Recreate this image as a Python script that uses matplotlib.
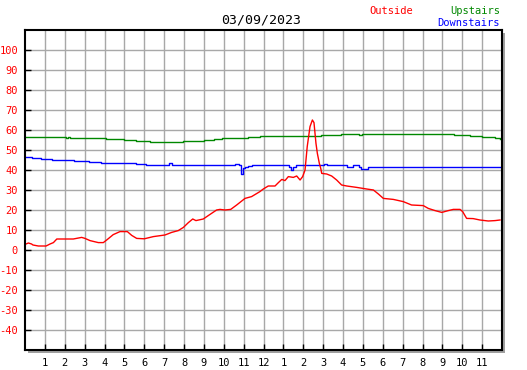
import matplotlib
matplotlib.use("Agg")
import matplotlib.pyplot as plt
from matplotlib.patches import Rectangle

title = "03/09/2023"
series_names = ["Outside", "Upstairs", "Downstairs"]
hour_labels = ["1", "2", "3", "4", "5", "6", "7", "8", "9", "10", "11", "12",
               "1", "2", "3", "4", "5", "6", "7", "8", "9", "10", "11"]
y_ticks = [-40, -30, -20, -10, 0, 10, 20, 30, 40, 50, 60, 70, 80, 90, 100]

outside_t = [0.05, 0.17, 0.33, 0.4, 0.67, 1.06, 1.26, 1.43, 1.6, 2.43, 2.85, 3.02, 3.27, 3.69, 3.94,
             4.11, 4.44, 4.78, 5.15, 5.37, 5.62, 6.0, 6.46, 7.04, 7.38, 7.71, 7.97, 8.22, 8.44, 8.6,
             8.97, 9.22, 9.64, 9.81, 10.06, 10.35, 10.65, 11.07, 11.4, 11.82, 11.99, 12.24, 12.58,
             12.75, 12.92, 13.08, 13.25, 13.5, 13.67, 13.84, 13.97, 14.09, 14.2, 14.34, 14.46, 14.54,
             14.64, 14.71, 14.81, 14.88, 14.93, 15.18, 15.43, 15.68, 15.93, 16.19, 16.69, 17.19,
             17.53, 17.78, 18.03, 18.53, 19.03, 19.45, 20.04, 20.29, 20.63, 20.97, 21.3, 21.55,
             21.89, 22.02, 22.22, 22.55, 22.89, 23.31, 23.65, 23.9]
outside_v = [3.0, 3.5, 3.0, 2.5, 2.0, 2.0, 3.0, 3.7, 5.5, 5.5, 6.3, 5.8, 4.7, 3.7, 3.7,
             5.0, 7.7, 9.2, 9.2, 7.3, 5.8, 5.6, 6.7, 7.5, 8.8, 9.7, 11.3, 13.7, 15.5, 14.7,
             15.5, 17.2, 20.0, 20.3, 20.0, 20.3, 22.5, 25.8, 26.7, 29.2, 30.5, 32.0, 32.0,
             33.7, 35.3, 34.7, 36.7, 36.3, 37.0, 35.0, 36.7, 40.0, 51.7, 61.7, 65.0, 63.7,
             53.3, 48.3, 43.3, 40.8, 38.3, 38.0, 37.0, 35.0, 32.5, 32.0, 31.3, 30.5,
             30.0, 28.0, 25.8, 25.3, 24.2, 22.5, 22.2, 20.8, 19.7, 18.8, 19.7, 20.3,
             20.3, 19.2, 15.8, 15.7, 15.0, 14.5, 14.7, 15.0]

upstairs_t = [0.0, 2.05, 2.15, 2.25, 4.1, 5.0, 5.6, 6.3, 7.95, 9.0, 9.5, 9.9, 11.2, 11.8, 12.2,
              14.9, 15.9, 16.8, 16.95, 20.9, 21.6, 22.4, 23.0, 23.65, 23.9]
upstairs_v = [56.5, 56.0, 56.5, 56.0, 55.3, 54.8, 54.3, 53.8, 54.3, 54.8, 55.3, 55.8, 56.3, 56.8, 57.0,
              57.5, 58.0, 57.3, 58.0, 57.8, 57.3, 56.8, 56.3, 55.8, 55.3]

downstairs_t = [0.0, 0.35, 0.8, 1.35, 2.45, 3.2, 3.8, 5.6, 6.1, 7.25, 7.4, 10.55, 10.75, 10.85,
                10.95, 11.05, 11.2, 11.4, 13.3, 13.4, 13.5, 13.65, 15.05, 15.2, 16.2, 16.5,
                16.8, 16.9, 17.25, 17.4, 22.35, 23.9]
downstairs_v = [46.3, 45.8, 45.3, 44.8, 44.3, 43.8, 43.3, 43.0, 42.6, 43.4, 42.5, 43.2, 42.5, 37.8,
                40.8, 41.6, 42.2, 42.5, 41.5, 40.0, 41.7, 42.5, 43.0, 42.5, 41.7, 42.5,
                41.3, 40.5, 41.3, 41.7, 41.3, 41.3]

W, H = 527, 370
fig = plt.figure(figsize=(W / 100, H / 100), dpi=100)
fig.patch.set_facecolor("white")

L, R, T, B = 25, 502, 30, 350
ax_rect = [L / W, (H - B) / H, (R - L) / W, (B - T) / H]

# shadow
fig.patches.append(Rectangle(((L + 3) / W, (H - B - 3) / H), (R - L) / W, (B - T) / H,
                             transform=fig.transFigure, facecolor="#a0a0a0", edgecolor="none",
                             zorder=0))

ax = fig.add_axes(ax_rect)
ax.set_facecolor("white")
ax.set_zorder(1)
ax.set_xlim(0, 24)
ax.set_ylim(-50, 110)

for h in range(1, 24):
    ax.axvline(h, color="#a8a8a8", lw=1, zorder=1)
for v in range(-40, 110, 10):
    ax.axhline(v, color="#a8a8a8", lw=1, zorder=1)

ax.plot(upstairs_t, upstairs_v, color="#008800", lw=1, drawstyle="steps-post", zorder=3)
ax.plot(downstairs_t, downstairs_v, color="#0000ff", lw=1, drawstyle="steps-post", zorder=3)
ax.plot(outside_t, outside_v, color="#ff0000", lw=1, zorder=4)

ax.set_xticks(range(1, 24))
ax.set_xticklabels(hour_labels)
ax.set_yticks(y_ticks)
ax.set_yticklabels([str(v) for v in y_ticks])
ax.tick_params(axis="both", direction="in", length=4, width=1, color="black")
ax.tick_params(axis="x", labelsize=7.5, pad=6, labelcolor="black")
ax.tick_params(axis="y", labelsize=7.5, pad=5, labelcolor="#ff0000")
for lab in ax.get_xticklabels() + ax.get_yticklabels():
    lab.set_family("DejaVu Sans Mono")
for sp in ax.spines.values():
    sp.set_color("black")
    sp.set_linewidth(1.5)
    sp.set_zorder(5)

mono = "DejaVu Sans Mono"
fig.text(261 / W, 1 - 20 / H, title, ha="center", va="center", fontsize=9.5, family=mono, color="black")
fig.text(369 / W, 1 - 11 / H, series_names[0], ha="left", va="center", fontsize=7.5, family=mono, color="#ff0000")
fig.text(500 / W, 1 - 11 / H, series_names[1], ha="right", va="center", fontsize=7.5, family=mono, color="#008800")
fig.text(500 / W, 1 - 23 / H, series_names[2], ha="right", va="center", fontsize=7.5, family=mono, color="#0000ff")

fig.savefig("out.png", dpi=100)
